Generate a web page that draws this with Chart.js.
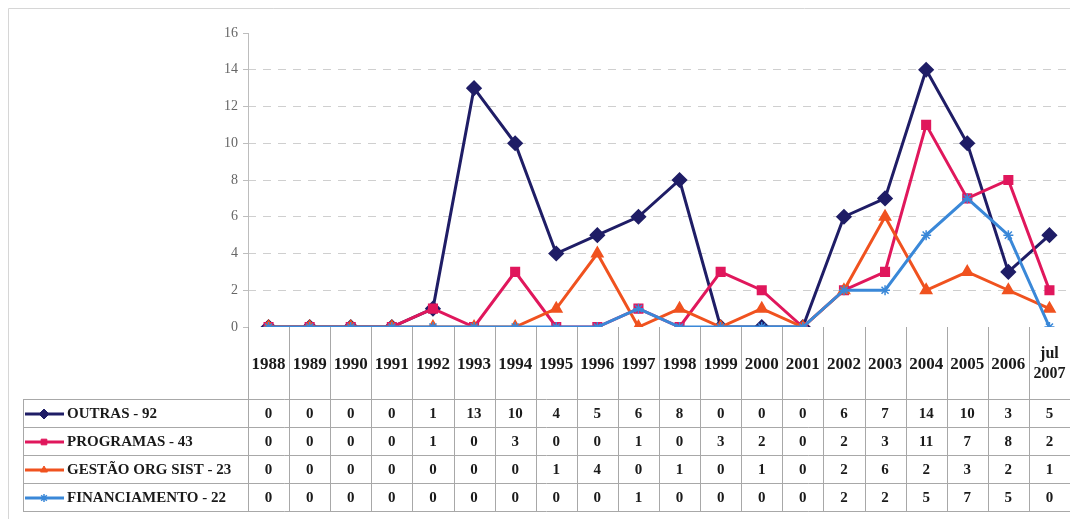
<!DOCTYPE html>
<html>
<head>
<meta charset="utf-8">
<script src="https://cdn.jsdelivr.net/npm/chart.js@4.4.1/dist/chart.umd.min.js"></script>
<style>
  html, body { margin: 0; padding: 0; background: #fff; }
  #wrap { width: 1070px; height: 519px; position: relative; }
</style>
</head>
<body>
<div id="wrap"><canvas id="chart-table"></canvas></div>
<script>
// categories (x axis) and the four series
var years = ["1988","1989","1990","1991","1992","1993","1994","1995","1996","1997",
             "1998","1999","2000","2001","2002","2003","2004","2005","2006","jul\n2007"];

var outras        = [0,0,0,0,1,13,10,4,5,6,8,0,0,0,6,7,14,10,3,5];
var programas     = [0,0,0,0,1,0,3,0,0,1,0,3,2,0,2,3,11,7,8,2];
var gestao        = [0,0,0,0,0,0,0,1,4,0,1,0,1,0,2,6,2,3,2,1];
var financiamento = [0,0,0,0,0,0,0,0,0,1,0,0,0,0,2,2,5,7,5,0];

var seriesNames = ["OUTRAS - 92", "PROGRAMAS - 43", "GESTÃO ORG SIST - 23", "FINANCIAMENTO - 22"];
var yTicks = [0,2,4,6,8,10,12,14,16];

var colNavy   = '#1f1d66';
var colPink   = '#e0175c';
var colOrange = '#f0521f';
var colBlue   = '#3a88d8';

var gridGray = '#cfcfcf';
var tableTop = 399;
var rowH = 28;

// draws the outer frame, the category header and the data table with legend keys
var tablePlugin = {
  id: 'dataTable',
  afterDraw: function(chart) {
    var ctx = chart.ctx;
    var xs = chart.scales.x;
    var area = chart.chartArea;
    var n = years.length;
    var colW = (area.right - area.left) / n;
    var bottom = tableTop + rowH * 4;

    ctx.save();
    // frame
    ctx.strokeStyle = '#d6d6d6';
    ctx.lineWidth = 1;
    ctx.setLineDash([]);
    ctx.beginPath();
    ctx.moveTo(8.5, 519); ctx.lineTo(8.5, 8.5); ctx.lineTo(1070, 8.5);
    ctx.stroke();

    // y axis line
    ctx.strokeStyle = '#bdbdbd';
    ctx.beginPath();
    ctx.moveTo(Math.round(area.left) + 0.5, area.top);
    ctx.lineTo(Math.round(area.left) + 0.5, area.bottom);
    ctx.stroke();

    // grid of table
    ctx.strokeStyle = '#a8a8a8';
    ctx.beginPath();
    for (var i = 0; i <= n; i++) {
      var bx = Math.round(area.left + i * colW) + 0.5;
      ctx.moveTo(bx, area.bottom);
      ctx.lineTo(bx, bottom);
    }
    for (var r = 0; r <= 4; r++) {
      var by = tableTop + r * rowH + 0.5;
      ctx.moveTo(23, by);
      ctx.lineTo(1070, by);
    }
    ctx.moveTo(23.5, tableTop);
    ctx.lineTo(23.5, bottom);
    ctx.stroke();

    // year header
    ctx.fillStyle = '#1a1a1a';
    ctx.font = 'bold 17px "Liberation Serif", "Times New Roman", serif';
    ctx.textAlign = 'center';
    ctx.textBaseline = 'middle';
    for (var i = 0; i < n; i++) {
      var cx = xs.getPixelForValue(i);
      var parts = years[i].split('\n');
      if (parts.length === 1) {
        ctx.fillText(parts[0], cx, 365);
      } else {
        ctx.font = 'bold 16px "Liberation Serif", "Times New Roman", serif';
        ctx.fillText(parts[0], cx, 354);
        ctx.fillText(parts[1], cx, 374);
      }
    }

    // rows
    chart.data.datasets.forEach(function(ds, r) {
      var cy = tableTop + r * rowH + rowH / 2 + 1;
      ctx.fillStyle = '#1a1a1a';
      ctx.font = 'bold 15px "Liberation Serif", "Times New Roman", serif';
      ctx.textAlign = 'center';
      ds.data.forEach(function(v, i) {
        ctx.fillText(String(v), xs.getPixelForValue(i), cy);
      });

      // legend key
      ctx.strokeStyle = ds.borderColor;
      ctx.lineWidth = 3;
      ctx.beginPath();
      ctx.moveTo(25, cy);
      ctx.lineTo(64, cy);
      ctx.stroke();
      ctx.fillStyle = ds.pointBackgroundColor;
      ctx.strokeStyle = ds.pointBorderColor;
      ctx.lineWidth = ds.pointBorderWidth || 1;
      Chart.helpers.drawPoint(ctx, {
        pointStyle: ds.pointStyle,
        radius: ds.pointRadius - 1,
        borderWidth: ds.pointBorderWidth || 1
      }, 44, cy);

      ctx.fillStyle = '#1a1a1a';
      ctx.font = 'bold 15px "Liberation Serif", "Times New Roman", serif';
      ctx.textAlign = 'left';
      ctx.fillText(seriesNames[r], 67, cy);
    });
    ctx.restore();
  }
};

function onLoad() {
  var ctx = document.getElementById('chart-table').getContext('2d');
  new Chart(ctx, {
    type: 'line',
    data: {
      labels: years,
      datasets: [{
        label: seriesNames[0],
        data: outras,
        borderColor: colNavy,
        borderWidth: 3,
        pointStyle: 'rectRot',
        pointRadius: 6,
        pointBackgroundColor: colNavy,
        pointBorderColor: colNavy,
        order: 3
      }, {
        label: seriesNames[1],
        data: programas,
        borderColor: colPink,
        borderWidth: 3,
        pointStyle: 'rect',
        pointRadius: 5,
        pointBackgroundColor: colPink,
        pointBorderColor: colPink,
        order: 2
      }, {
        label: seriesNames[2],
        data: gestao,
        borderColor: colOrange,
        borderWidth: 3,
        pointStyle: 'triangle',
        pointRadius: 5,
        pointBackgroundColor: colOrange,
        pointBorderColor: colOrange,
        order: 1
      }, {
        label: seriesNames[3],
        data: financiamento,
        borderColor: colBlue,
        borderWidth: 3,
        pointStyle: 'star',
        pointRadius: 5,
        pointBorderWidth: 1.5,
        pointBackgroundColor: colBlue,
        pointBorderColor: colBlue,
        order: 0
      }]
    },
    options: {
      responsive: false,
      animation: false,
      layout: { autoPadding: false, padding: { top: 33, right: 0, bottom: 192, left: 0 } },
      plugins: { legend: { display: false }, tooltip: { enabled: false } },
      scales: {
        x: {
          offset: true,
          grid: { display: false },
          border: { display: false },
          ticks: { display: false },
          afterFit: function(s) { s.height = 0; }
        },
        y: {
          min: 0,
          max: 16,
          afterBuildTicks: function(s) { s.ticks = yTicks.map(function(v) { return { value: v }; }); },
          afterFit: function(s) { s.width = 248; },
          border: { display: false, dash: [8, 7] },
          grid: {
            color: function(c) { return (c.tick && c.tick.value > 0 && c.tick.value < 16) ? gridGray : 'rgba(0,0,0,0)'; },
            tickColor: '#bdbdbd',
            tickLength: 5,
            tickBorderDash: []
          },
          ticks: {
            color: '#666666',
            padding: 5,
            font: { family: '"Liberation Serif", "Times New Roman", serif', size: 14 }
          }
        }
      }
    },
    plugins: [tablePlugin]
  });
}

document.getElementById('chart-table').width = 1070;
document.getElementById('chart-table').height = 519;
window.addEventListener('load', onLoad);
</script>
</body>
</html>
